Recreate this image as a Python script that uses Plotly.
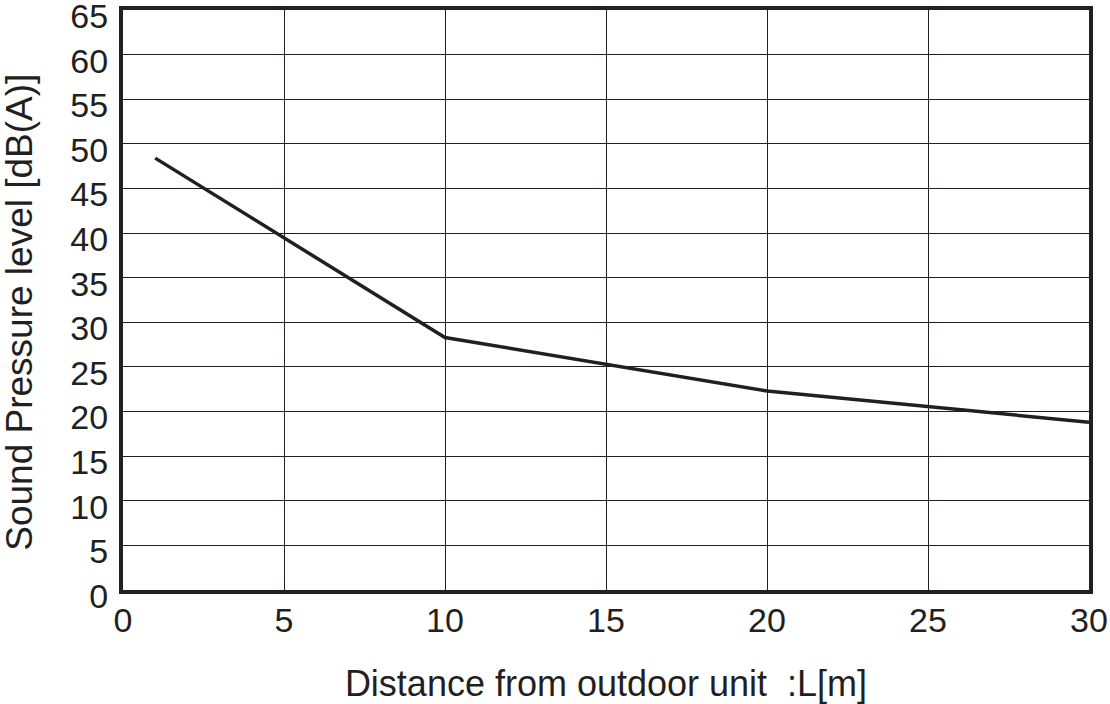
import plotly.graph_objects as go

distance_m = [1, 10, 20, 30]
sound_db = [48.4, 28.3, 22.3, 18.8]
x_ticks = [0, 5, 10, 15, 20, 25, 30]
y_ticks = list(range(0, 70, 5))
x_title = "Distance from outdoor unit  :L[m]"
y_title = "Sound Pressure level [dB(A)]"

fig = go.Figure()
fig.add_trace(go.Scatter(
    x=distance_m, y=sound_db, mode="lines",
    line=dict(color="#231f20", width=3.5),
    showlegend=False, hoverinfo="skip",
))

family = "Liberation Sans, Arial, sans-serif"
tick_font = dict(family=family, color="#231f20", size=34)
title_font = dict(family=family, color="#231f20", size=36)
ytitle_font = dict(family=family, color="#231f20", size=37)

fig.update_layout(
    width=1110, height=704,
    margin=dict(l=123, r=21, t=10, b=114),
    paper_bgcolor="white", plot_bgcolor="white",
    font=tick_font,
    xaxis=dict(
        range=[0, 30], tickvals=x_ticks, ticktext=[str(v) for v in x_ticks],
        tickfont=tick_font, automargin=False, ticklabeloverflow="allow",
        showgrid=True, gridcolor="#231f20", gridwidth=1.2,
        showline=True, linecolor="#231f20", linewidth=4, mirror=True,
        ticks="", ticklabelstandoff=-3, zeroline=False,
        title=dict(text=x_title, font=title_font, standoff=45),
    ),
    yaxis=dict(
        range=[0, 65], tickvals=y_ticks, ticktext=[str(v) for v in y_ticks],
        tickfont=tick_font, automargin=False, ticklabeloverflow="allow",
        showgrid=True, gridcolor="#231f20", gridwidth=1.2,
        showline=True, linecolor="#231f20", linewidth=4, mirror=True,
        ticks="", ticklabelstandoff=4, ticklabelshift=6, zeroline=False,
    ),
    annotations=[dict(
        text=y_title, textangle=-90, font=ytitle_font, showarrow=False,
        xref="paper", yref="paper", x=0, y=0.478,
        xanchor="center", yanchor="middle", xshift=-103,
    )],
)

fig.write_html("out.html", config={"displayModeBar": False},
               post_script="document.body.style.margin='0';")
